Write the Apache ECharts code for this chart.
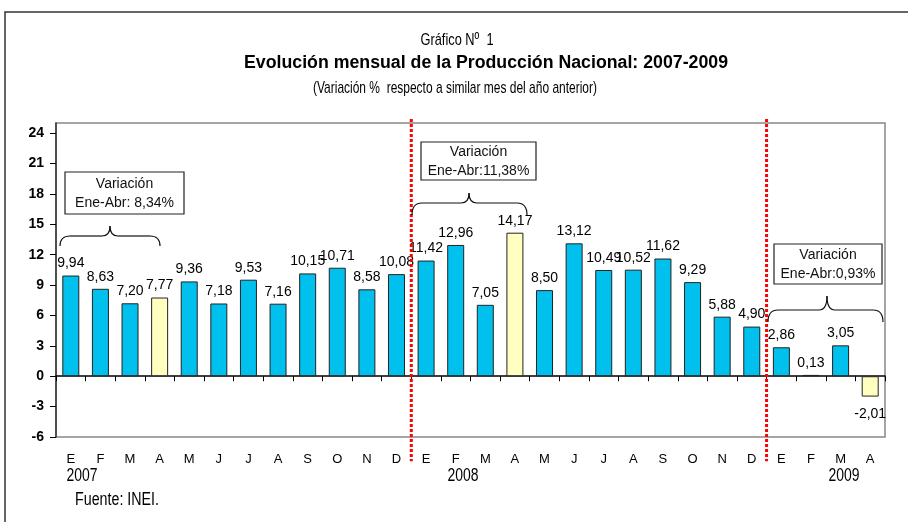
<!DOCTYPE html>
<html>
<head>
<meta charset="utf-8">
<script src="https://cdn.jsdelivr.net/npm/echarts@6/dist/echarts.min.js"></script>
<style>
  html, body { margin: 0; padding: 0; background: #fff; }
  #chart { width: 908px; height: 522px; }
</style>
</head>
<body>
<div id="chart"></div>
<script>
// meses 2007 (12), 2008 (12), 2009 (4)
const months = ['E','F','M','A','M','J','J','A','S','O','N','D',
                'E','F','M','A','M','J','J','A','S','O','N','D',
                'E','F','M','A'];
const values = [9.94, 8.63, 7.20, 7.77, 9.36, 7.18, 9.53, 7.16, 10.15, 10.71, 8.58, 10.08,
                11.42, 12.96, 7.05, 14.17, 8.50, 13.12, 10.49, 10.52, 11.62, 9.29, 5.88, 4.90,
                2.86, 0.13, 3.05, -2.01];
const highlighted = [3, 15, 27]; // abril de cada año
const yTicks = [-6, -3, 0, 3, 6, 9, 12, 15, 18, 21, 24];
const separators = [12, 24]; // cambio de año
const years = ['2007', '2008', '2009'];
const notes = ['Ene-Abr: 8,34%', 'Ene-Abr:11,38%', 'Ene-Abr:0,93%'];

const SANS = '"Liberation Sans", Arial, sans-serif';

// no hay Arial Narrow: se comprime Liberation Sans en horizontal
const ctx = document.createElement('canvas').getContext('2d');
function narrowText(text, font, x, y, width, extra) {
  ctx.font = font;
  const w = ctx.measureText(text).width;
  return Object.assign({
    type: 'text', x: x, y: y, scaleX: width / w,
    style: { text: text, font: font, fill: '#000', align: 'center', verticalAlign: 'middle' }
  }, extra || {});
}

const chart = echarts.init(document.getElementById('chart'));

const fmt = v => v.toFixed(2).replace('.', ',');

const barData = values.map((v, i) => ({
  value: v,
  itemStyle: { color: highlighted.includes(i) ? '#FFFFC0' : '#00C0EE' },
  label: v < 0 ? { position: 'bottom', distance: 11 } : { position: 'top' }
}));

const sepSeries = separators.map(s => ({
  type: 'line',
  xAxisIndex: 1,
  data: [[s, 25.4], [s, -8.4]],
  symbol: 'none',
  clip: false,
  silent: true,
  lineStyle: { color: '#FF0000', width: 3, type: [3, 2] },
  z: 5
}));

// recuadros de anotación: [x, y, w, h]
const boxes = [[65, 172, 119, 42], [421, 142, 115, 38], [774, 244, 108, 40]];
// llaves: [izq, der, centro, y extremos, y barra, y punta]
const braces = [[60, 160, 110, 246, 236, 226], [412, 527, 469, 215, 203, 193], [768, 883, 827, 322, 310, 296]];
const yearPos = [[82, 476], [463, 476], [844, 476]];

const graphics = [
  { type: 'rect', shape: { x: 5, y: 12, width: 960, height: 600 },
    style: { fill: 'none', stroke: '#333', lineWidth: 1.5 }, silent: true },
  narrowText('Gráfico Nº  1', '17px ' + SANS, 457, 40, 73),
  narrowText('Evolución mensual de la Producción Nacional: 2007-2009', 'bold 18px ' + SANS, 486, 63, 484),
  narrowText('(Variación %  respecto a similar mes del año anterior)', '17px ' + SANS, 455, 88, 284)
];
boxes.forEach((b, i) => {
  graphics.push({ type: 'rect', shape: { x: b[0], y: b[1], width: b[2], height: b[3] },
    style: { fill: '#fff', stroke: '#222', lineWidth: 1.2 }, z: 10 });
  graphics.push({ type: 'text', x: b[0] + b[2] / 2, y: b[1] + b[3] / 2 + 1, z: 11,
    style: { text: 'Variación\n' + notes[i], font: '14px ' + SANS, fill: '#111',
      align: 'center', verticalAlign: 'middle', lineHeight: 19 } });
});
const bStyle = { fill: 'none', stroke: '#111', lineWidth: 1.2 };
braces.forEach(([xl, xr, xc, ye, yb, yt]) => {
  const r = 10, c = 8;
  const segs = [
    { type: 'bezierCurve', shape: { x1: xl, y1: ye, cpx1: xl, cpy1: yb, x2: xl + r, y2: yb } },
    { type: 'line', shape: { x1: xl + r, y1: yb, x2: xc - c, y2: yb } },
    { type: 'bezierCurve', shape: { x1: xc - c, y1: yb, cpx1: xc, cpy1: yb, x2: xc, y2: yt } },
    { type: 'bezierCurve', shape: { x1: xc, y1: yt, cpx1: xc, cpy1: yb, x2: xc + c, y2: yb } },
    { type: 'line', shape: { x1: xc + c, y1: yb, x2: xr - r, y2: yb } },
    { type: 'bezierCurve', shape: { x1: xr - r, y1: yb, cpx1: xr, cpy1: yb, x2: xr, y2: ye } }
  ];
  segs.forEach(s => graphics.push(Object.assign(s, { style: bStyle, z: 10, silent: true })));
});
years.forEach((y, i) => {
  graphics.push(narrowText(y, '18px ' + SANS, yearPos[i][0], yearPos[i][1], 31));
});
graphics.push(narrowText('Fuente: INEI.', '18px ' + SANS, 117, 500, 84));

const option = {
  animation: false,
  backgroundColor: '#fff',
  grid: { left: 56, right: 23, top: 123, bottom: 85, show: true,
    borderColor: '#888', borderWidth: 1.5, backgroundColor: 'transparent' },
  xAxis: [
    {
      type: 'category',
      data: months,
      axisLine: { onZero: true, lineStyle: { color: '#000', width: 1.5 } },
      axisTick: { show: true, length: 5, lineStyle: { color: '#000' } },
      axisLabel: { margin: 16, fontFamily: SANS, fontSize: 13, color: '#000', interval: 0 },
      splitLine: { show: false }
    },
    { type: 'value', min: 0, max: 28, show: false }
  ],
  yAxis: {
    type: 'value',
    min: -6,
    max: 25,
    interval: 3,
    axisLine: { show: true, lineStyle: { color: '#333', width: 1.5 } },
    axisTick: { show: true, length: 6, customValues: yTicks, lineStyle: { color: '#000' } },
    axisLabel: { customValues: yTicks, margin: 12, fontFamily: SANS, fontWeight: 'bold',
      fontSize: 14, color: '#000' },
    splitLine: { show: false }
  },
  series: [
    {
      type: 'bar',
      data: barData,
      barWidth: 17,
      itemStyle: { borderColor: '#222', borderWidth: 1 },
      label: { show: true, distance: 5, fontFamily: SANS, fontSize: 14, color: '#000',
        formatter: p => fmt(p.value) }
    },
    ...sepSeries
  ],
  graphic: graphics
};
chart.setOption(option);
</script>
</body>
</html>
